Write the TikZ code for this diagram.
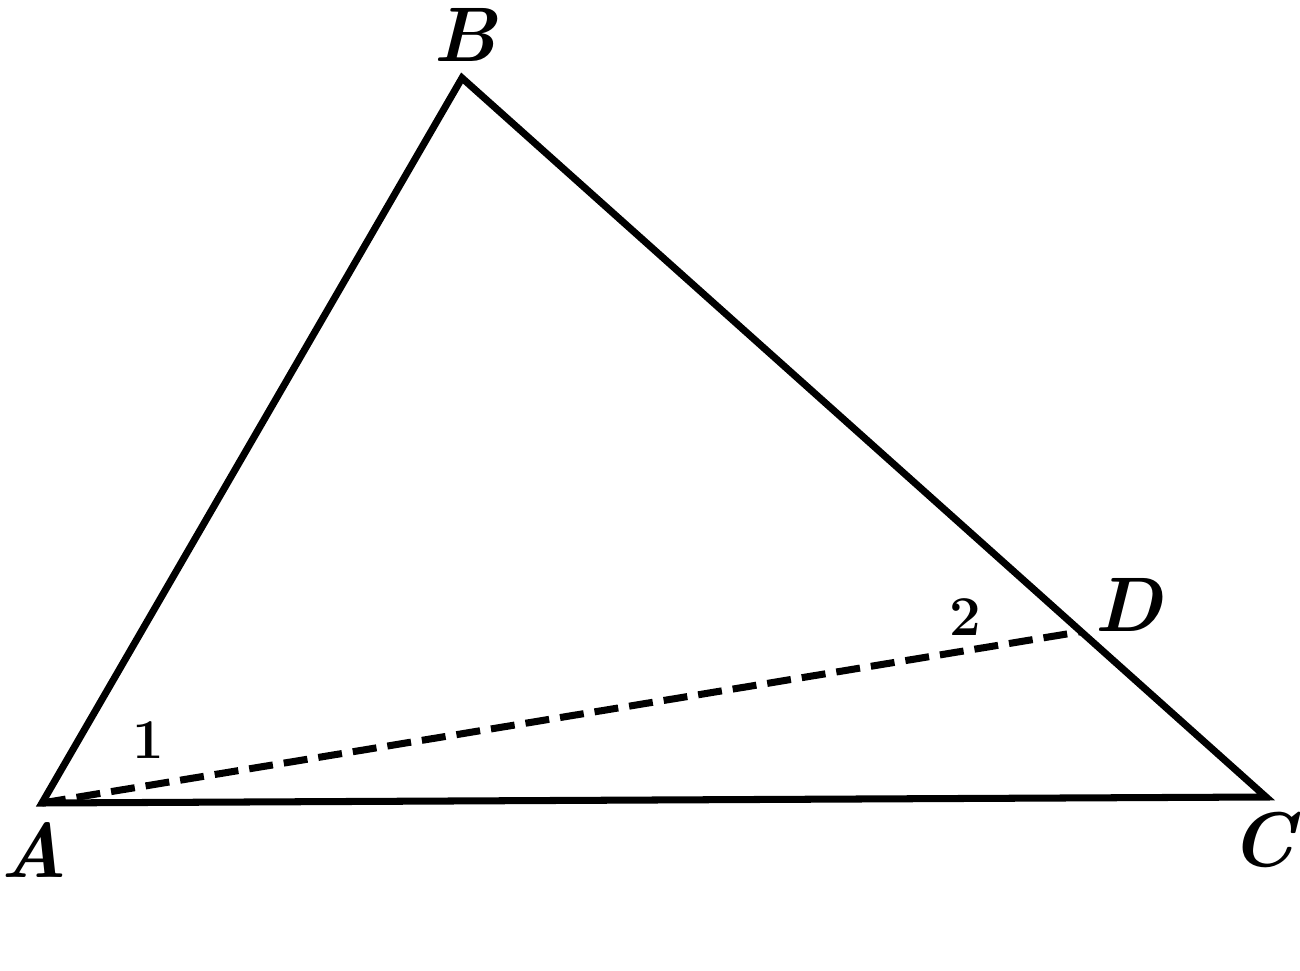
\documentclass[tikz,border=0pt]{standalone}
\usetikzlibrary{calc}
\tikzset{
  side/.style={line width=2pt, line join=miter, line cap=butt},
  median/.style={line width=2pt, dash pattern=on 0.24cm off 0.11cm},
  vlabel/.style={font=\fontsize{22}{26}\selectfont\bfseries\itshape, inner sep=0pt},
  alabel/.style={font=\fontsize{16}{19}\selectfont\bfseries, inner sep=0pt}
}
\begin{document}
\begin{tikzpicture}
        \useasboundingbox (0,0) rectangle (13,9.7);

        % Vertices of the triangle
        \coordinate (A) at (0.42,1.67);
        \coordinate (B) at (4.62,8.92);
        \coordinate (C) at (12.66,1.73);
        \coordinate (D) at ($(B)!0.77!(C)$);

        % Draw the triangle
        \draw[side] (A) -- (B) -- (C) -- cycle;

        % Dashed line from A to D
        \draw[median] (A) -- (D);

        % Vertex labels
        \node[vlabel] (labA) at (0.34,1.20) {A};
        \node[vlabel] (labB) at (4.65,9.35) {B};
        \node[vlabel] (labC) at (12.62,1.30) {C};
        \node[vlabel] (labD) at (11.28,3.65) {D};

        % Angle numbers
        \node[alabel] (ang1) at (1.48,2.30) {1};
        \node[alabel] (ang2) at (9.65,3.53) {2};
    \end{tikzpicture}
\end{document}
